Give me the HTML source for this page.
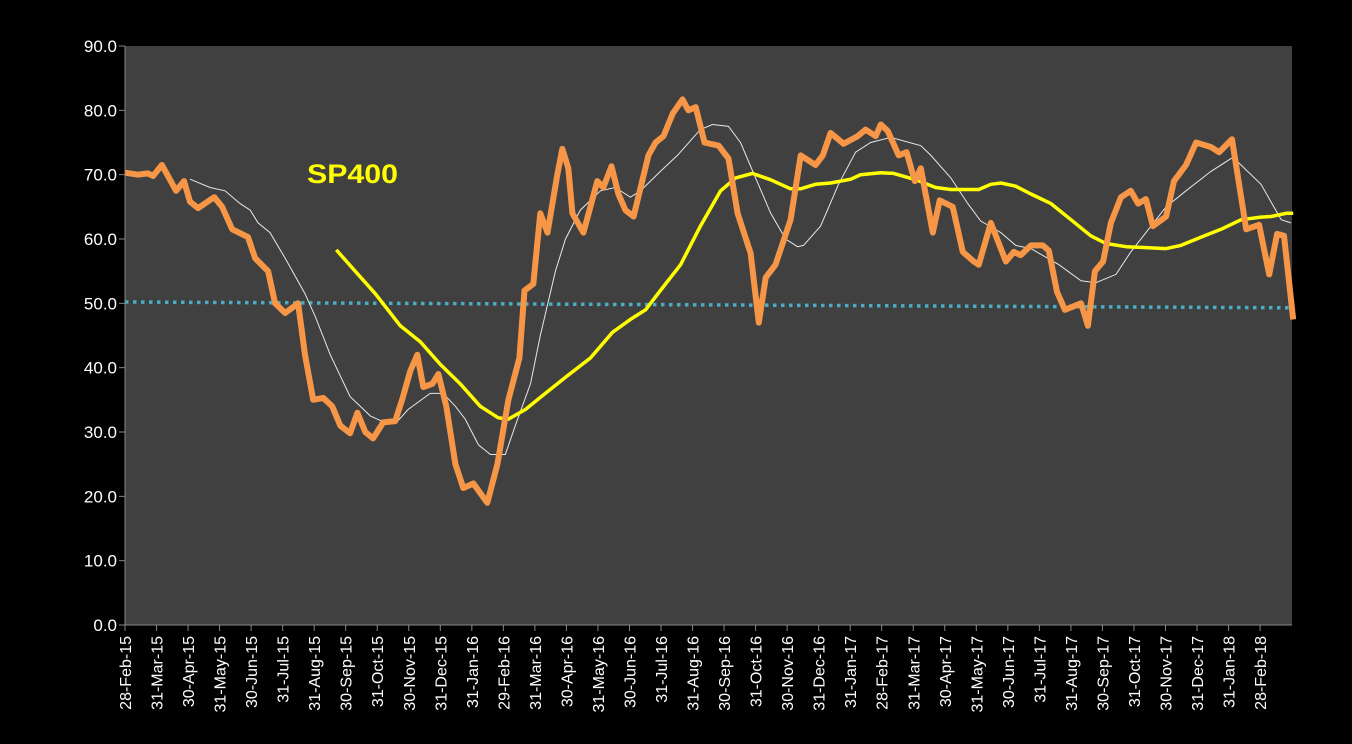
<!DOCTYPE html>
<html><head><meta charset="utf-8"><style>
html,body{margin:0;padding:0;background:#000;}
svg{display:block;font-family:"Liberation Sans",sans-serif;}
</style></head><body>
<svg id="chart" width="1352" height="744" viewBox="0 0 1352 744">
<rect x="0" y="0" width="1352" height="744" fill="#000"/>
<rect x="125" y="46" width="1167" height="579" fill="#404040"/>
<g id="grid"></g>
<g id="series"></g>
<g id="axes"></g>
<text x="307" y="183" fill="#ffff00" font-size="27" font-weight="bold" textLength="91" lengthAdjust="spacingAndGlyphs">SP400</text>
</svg>
<script>
const monthLabels = ["28-Feb-15","31-Mar-15","30-Apr-15","31-May-15","30-Jun-15","31-Jul-15","31-Aug-15","30-Sep-15","31-Oct-15","30-Nov-15","31-Dec-15","31-Jan-16","29-Feb-16","31-Mar-16","30-Apr-16","31-May-16","30-Jun-16","31-Jul-16","31-Aug-16","30-Sep-16","31-Oct-16","30-Nov-16","31-Dec-16","31-Jan-17","28-Feb-17","31-Mar-17","30-Apr-17","31-May-17","30-Jun-17","31-Jul-17","31-Aug-17","30-Sep-17","31-Oct-17","30-Nov-17","31-Dec-17","31-Jan-18","28-Feb-18"];
const yTicks = [0,10,20,30,40,50,60,70,80,90];
const orangeT = [0,0.41,0.73,0.89,1.17,1.62,1.87,2.06,2.32,2.83,3.08,3.40,3.90,4.13,4.54,4.76,5.08,5.49,5.71,5.97,6.29,6.57,6.83,7.14,7.37,7.62,7.87,8.19,8.57,8.79,9.05,9.27,9.46,9.75,9.94,10.19,10.48,10.73,11.05,11.27,11.49,11.81,12.16,12.51,12.67,12.95,13.17,13.40,13.71,13.87,14.06,14.19,14.54,14.76,14.98,15.17,15.43,15.65,15.87,16.13,16.60,16.83,17.08,17.37,17.68,17.87,18.10,18.38,18.83,19.14,19.43,19.84,20.10,20.32,20.63,21.11,21.43,21.90,22.13,22.38,22.79,23.24,23.49,23.81,23.97,24.19,24.54,24.79,25.05,25.24,25.62,25.84,26.25,26.57,26.92,27.08,27.46,27.94,28.19,28.41,28.73,29.11,29.30,29.56,29.81,30.32,30.54,30.76,31.02,31.27,31.59,31.90,32.13,32.38,32.60,33.02,33.27,33.65,33.97,34.44,34.70,35.11,35.56,35.97,36.29,36.54,36.76,37.05];
const orangeV = [70.3,70,70.2,69.8,71.5,67.5,69,65.8,64.8,66.5,65,61.5,60.3,57,55,50,48.5,50,42,35,35.3,34,31,29.8,33,30,29,31.5,31.7,35,39.5,42,37,37.5,39,34,25,21.3,22,20.5,19,25,35,41.5,52,53,64,61,70,74,71,64,61,65,69,68,71.3,67,64.5,63.5,73,75,76,79.5,81.7,80,80.5,75,74.5,72.5,64,57.8,47,54,56,63,73,71.5,73,76.5,74.8,76,77,76,77.8,76.8,73,73.5,69,71,61,66,65,58,56.5,56,62.5,56.5,58,57.5,59,59,58.2,51.8,49,50,46.5,55,56.5,62.5,66.5,67.5,65.5,66.2,62,63.5,69,71.5,75,74.3,73.5,75.5,61.5,62.2,54.5,60.8,60.5,47.5];
const whiteT = [2.06,2.70,3.17,3.65,3.97,4.22,4.60,5.08,5.71,6.03,6.51,7.14,7.78,8.09,8.63,8.98,9.68,10.09,10.48,10.79,11.21,11.59,12.06,12.38,12.86,13.17,13.65,13.97,14.44,15.08,15.55,16.03,16.35,16.98,17.52,18.25,18.63,19.14,19.52,20.00,20.48,20.95,21.33,21.52,22.06,22.63,23.17,23.65,24.29,25.24,25.56,26.19,26.73,27.14,27.78,28.25,28.73,29.62,30.32,30.79,31.43,31.90,32.54,33.02,33.65,34.44,35.14,36.03,36.67,36.98];
const whiteV = [69.3,68,67.5,65.5,64.5,62.5,61,57,51.5,48,42,35.5,32.5,31.8,31.6,33.5,36,36,34,32,28,26.5,26.5,31,37.5,45,55,60,64.5,67.5,68,66.5,67.5,70.5,73,77,77.8,77.5,75,69.5,64,60,58.8,59,62,68.5,73.5,75,75.8,74.5,73,69.5,65.5,62.8,61,59,58.5,56,53.5,53.2,54.5,58,62,65,67.5,70.5,72.7,68.5,63,62.5];
const yellowT = [6.70,7.30,7.94,8.73,9.37,10.00,10.63,11.27,11.84,12.16,12.70,13.33,13.97,14.76,15.46,16.03,16.51,16.98,17.62,18.25,18.89,19.37,19.90,20.48,21.11,21.43,21.90,22.38,23.02,23.33,23.97,24.38,25.08,25.71,26.19,26.83,27.08,27.46,27.78,28.25,28.73,29.37,30.00,30.63,31.11,31.75,32.22,33.02,33.49,34.13,34.76,35.40,36.03,36.35,36.83,37.05];
const yellowV = [58.3,55,51.5,46.5,44,40.5,37.5,34,32.2,32,33.5,36,38.5,41.5,45.5,47.5,49,52,56,62,67.5,69.5,70.2,69.2,67.8,67.8,68.5,68.7,69.3,70,70.3,70.2,69.2,68,67.7,67.7,67.7,68.5,68.7,68.2,67,65.5,63,60.5,59.3,58.8,58.7,58.5,59,60.3,61.5,63,63.4,63.5,64,64];
const refT = [0,37.05];
const refV = [50.2,49.3];

const NS="http://www.w3.org/2000/svg";
const X0=125, XSTEP=31.53, Y0=625, YMAX=90, YTOP=46;
function xs(t){return X0+t*XSTEP;}
function ys(v){return Y0-(v/YMAX)*(Y0-YTOP);}
function mk(tag,attrs,parent){const e=document.createElementNS(NS,tag);for(const k in attrs)e.setAttribute(k,attrs[k]);parent.appendChild(e);return e;}
const axes=document.getElementById('axes'), series=document.getElementById('series');

const yAxis=mk('line',{x1:X0,y1:YTOP,x2:X0,y2:Y0,stroke:'#888','stroke-width':1},axes);


const xAxis=mk('line',{x1:X0-6,y1:Y0,x2:1292,y2:Y0,stroke:'#888','stroke-width':1},axes);



yTicks.forEach(v=>{
  const tk=mk('line',{x1:X0-6,y1:ys(v),x2:X0,y2:ys(v),stroke:'#888'},axes);
  
  
  const tx=mk('text',{x:X0-8,y:ys(v)+6,fill:'#fff','font-size':17,'text-anchor':'end'},axes);
  tx.textContent=v.toFixed(1);
  
  
});
monthLabels.forEach((m,i)=>{
  const x=xs(i);
  const tk=mk('line',{x1:x,y1:Y0,x2:x,y2:Y0+6,stroke:'#888'},axes);
  
  
  const tx=mk('text',{x:0,y:0,fill:'#fff','font-size':16,'text-anchor':'end',transform:`translate(${x+6},636) rotate(-90)`},axes);
  tx.textContent=m;
  
  
});

function path(T,V){return T.map((t,i)=>(i?'L':'M')+xs(t).toFixed(1)+' '+ys(V[i]).toFixed(1)).join(' ');}
const ref=mk('path',{d:path(refT,refV),stroke:'#4bacc6','stroke-width':3.5,fill:'none','stroke-dasharray':'3.5 4.5'},series);


const wl=mk('path',{d:path(whiteT,whiteV),stroke:'#e8e8e8','stroke-width':1,fill:'none'},series);


const yl=mk('path',{d:path(yellowT,yellowV),stroke:'#ffff00','stroke-width':3.5,fill:'none','stroke-linejoin':'round'},series);


const ol=mk('path',{d:path(orangeT,orangeV),stroke:'#f79646','stroke-width':6,fill:'none','stroke-linejoin':'round'},series);


</script>
</body></html>
